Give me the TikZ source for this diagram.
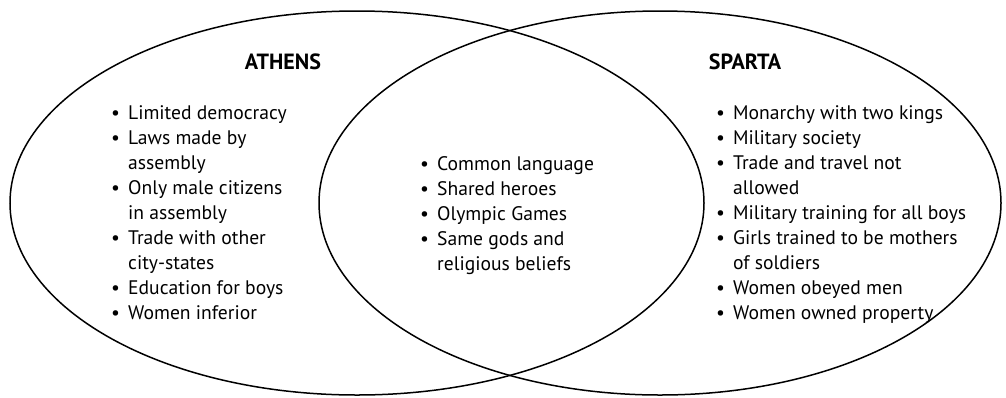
\documentclass[tikz,border=0pt]{standalone}
\usepackage{fontspec}
\setmainfont{PT Sans}
\newcommand{\itm}{\makebox[17pt][l]{\textbullet}}
\newcommand{\cnt}{\hspace*{17pt}}
\begin{document}
\begin{tikzpicture}[x=1pt,y=-1pt,
  head/.style={font=\fontsize{22}{26}\selectfont\bfseries,inner sep=0pt,anchor=base},
  list/.style={font=\fontsize{19.6}{25}\selectfont,align=left,inner sep=0pt,anchor=north west}]
\useasboundingbox (0,0) rectangle (1006,397);
\draw[line width=1.5pt] (357,203) ellipse [x radius=347pt, y radius=192pt];
\draw[line width=1.5pt] (660,203) ellipse [x radius=341pt, y radius=192pt];
\node[head] (athens) at (283,69) {ATHENS};
\node[head] (sparta) at (745,69) {SPARTA};
\node[list] (athenslist) at (111,105) {\itm Limited democracy\\ \itm Laws made by\\ \cnt assembly\\ \itm Only male citizens\\ \cnt in assembly\\ \itm Trade with other\\ \cnt city-states\\ \itm Education for boys\\ \itm Women inferior};
\node[list] (commonlist) at (420,156) {\itm Common language\\ \itm Shared heroes\\ \itm Olympic Games\\ \itm Same gods and\\ \cnt religious beliefs};
\node[list] (spartalist) at (716,105) {\itm Monarchy with two kings\\ \itm Military society\\ \itm Trade and travel not\\ \cnt allowed\\ \itm Military training for all boys\\ \itm Girls trained to be mothers\\ \cnt of soldiers\\ \itm Women obeyed men\\ \itm Women owned property};
\end{tikzpicture}
\end{document}
